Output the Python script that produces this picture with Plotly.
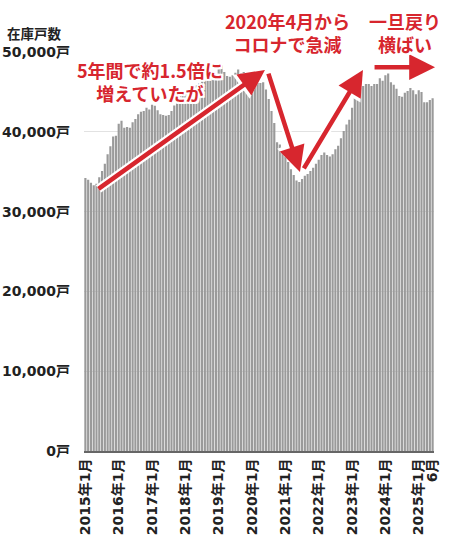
import plotly.graph_objects as go

# monthly stock of units (戸), 2015/01 .. 2025/06
years = list(range(2015, 2026))
months = ["%d-%02d" % (y, m) for y in years for m in range(1, 13)][:126]

v2015 = [34200, 34000, 33600, 33300, 33500, 34300, 35100, 36000, 37200, 38200, 39400, 39500]
v2016 = [41000, 41400, 40500, 40600, 40500, 41200, 41600, 42200, 42500, 42600, 43000, 42800]
v2017 = [43400, 43250, 42700, 42200, 42100, 42000, 42100, 42600, 43300, 44200, 44800, 44900]
v2018 = [45000, 45300, 45400, 45500, 45800, 46100, 46400, 46600, 46900, 47000, 47200, 47000]
v2019 = [48500, 48300, 47500, 47000, 46900, 47100, 47400, 47800, 47300, 47500, 47300, 47100]
v2020 = [46600, 46300, 46100, 46100, 46200, 45300, 44100, 42600, 41100, 38700, 38400, 38000]
v2021 = [36900, 36200, 35300, 34600, 33900, 33700, 34100, 34500, 34700, 35100, 35500, 36000]
v2022 = [36500, 37100, 37400, 37100, 36900, 37200, 37800, 38250, 39200, 40100, 40900, 41500]
v2023 = [43000, 44500, 45100, 45500, 45750, 46000, 46000, 45750, 46000, 46000, 46700, 46400]
v2024 = [47100, 47300, 46200, 45900, 45400, 44500, 44400, 44900, 45100, 45500, 45200, 44700]
v2025 = [45200, 45000, 43700, 43700, 44000, 44200]
stock = v2015 + v2016 + v2017 + v2018 + v2019 + v2020 + v2021 + v2022 + v2023 + v2024 + v2025

tick_months = ["%d-01" % y for y in years] + ["2025-06"]
tick_text = ["%d年1月" % y for y in years] + ["6月"]
y_ticks = [0, 10000, 20000, 30000, 40000, 50000]
y_text = ["0戸", "10,000戸", "20,000戸", "30,000戸", "40,000戸", "50,000戸"]

RED = "#d7262e"
FONT = "Noto Sans CJK JP"
TICKFONT = "DejaVu Sans, Noto Sans CJK JP"
halo = "-2px -2px 0 #fff, 2px -2px 0 #fff, -2px 2px 0 #fff, 2px 2px 0 #fff, 0 2px 0 #fff, 0 -2px 0 #fff, 2px 0 0 #fff, -2px 0 0 #fff"

fig = go.Figure()
fig.add_trace(go.Bar(x=months, y=stock, marker=dict(color="#9a9a9a", line=dict(width=0))))

fig.update_layout(
    width=450, height=540,
    margin=dict(l=84, r=16, t=52, b=89),
    plot_bgcolor="white", paper_bgcolor="white",
    bargap=0.22, showlegend=False,
    font=dict(family=FONT, color="#222"),
)
fig.update_xaxes(
    type="category", tickmode="array", tickvals=tick_months, ticktext=tick_text,
    tickangle=-90, tickfont=dict(size=14, family=TICKFONT, weight="bold", color="#222"),
    showline=True, linecolor="#666", linewidth=2, showgrid=False, ticks="",
    automargin=False,
)
fig.update_yaxes(
    range=[0, 50000], tickmode="array", tickvals=y_ticks, ticktext=y_text,
    tickfont=dict(size=14, family=TICKFONT, weight="bold", color="#222"),
    showgrid=True, gridcolor="#e2e2e2", gridwidth=1, zeroline=False,
    ticklabelstandoff=13, automargin=False,
)

# axis title
fig.add_annotation(text="在庫戸数", xref="paper", yref="paper", x=-0.14, y=1.048,
                   xanchor="center", yanchor="middle",
                   showarrow=False, font=dict(size=13.5, family=FONT, weight="bold", color="#222"))

# arrows: (head x, head y) in paper, tail offset in pixels
arrows = [
    (0.517, 0.955, -168, 120),
    (0.617, 0.699, -32, -100),
    (0.797, 0.955, -60, 100),
    (1.003, 0.962, -62, 0),
]
for hx, hy, ax, ay in arrows:
    fig.add_annotation(x=hx, y=hy, xref="paper", yref="paper", ax=ax, ay=ay, text="",
                       showarrow=True, arrowhead=2, arrowwidth=9, arrowsize=0.65, arrowcolor="white")
for hx, hy, ax, ay in arrows:
    fig.add_annotation(x=hx, y=hy, xref="paper", yref="paper", ax=ax, ay=ay, text="",
                       showarrow=True, arrowhead=2, arrowwidth=4.5, arrowsize=1.15, arrowcolor=RED)

notes = [
    ("5年間で約1.5倍に<br>増えていたが", 0.189, 0.927),
    ("2020年4月から<br>コロナで急減", 0.58, 1.05),
    ("一旦戻り<br>横ばい", 0.917, 1.05),
]
for txt, nx, ny in notes:
    fig.add_annotation(text=txt, x=nx, y=ny, xref="paper", yref="paper", showarrow=False,
                       xanchor="center", yanchor="middle", align="center",
                       font=dict(size=18, family=FONT, weight="bold", color=RED, shadow=halo))

# drop the default 8px page margin so the figure fills the window, no modebar
fig.write_html("out.html", config={"displayModeBar": False},
               post_script="document.body.style.margin='0';")
